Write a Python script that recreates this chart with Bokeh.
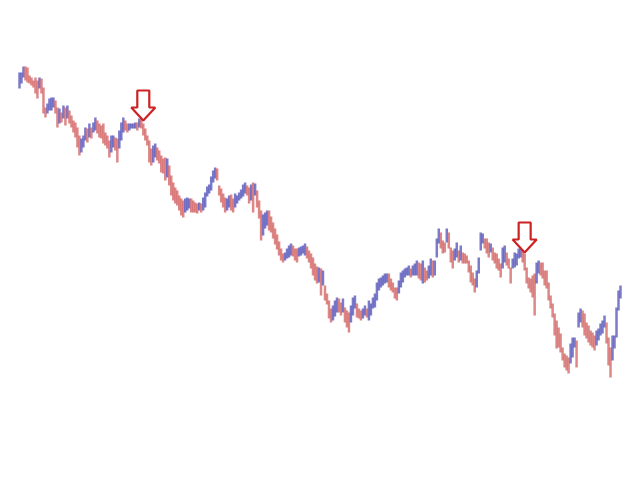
from bokeh.plotting import figure
from bokeh.models import Range1d, ColumnDataSource
from bokeh.embed import file_html
from bokeh.resources import INLINE

# Bar highs and lows (price units)
high = [
    408, 408, 414, 414, 413, 405, 403, 400, 403, 400, 403, 402, 393, 373, 377, 382, 383, 383, 380, 373,
    372, 368, 375, 373, 375, 370, 365, 360, 358, 353, 345, 342, 345, 353, 352, 357, 353, 358, 363, 360,
    357, 355, 357, 348, 345, 340, 345, 345, 343, 342, 350, 358, 363, 360, 357, 357, 357, 357, 358, 358,
    362, 362, 357, 352, 345, 340, 332, 335, 337, 333, 330, 325, 322,
    323, 322, 315, 305, 298, 293, 290, 285, 282, 280, 282, 283, 282, 282, 280, 278, 277, 278, 277, 283,
    288, 294, 296, 304, 310, 313, 312, 295, 292, 287, 283, 282, 285, 286, 282, 287, 285, 288, 291, 296,
    298, 295, 293, 296, 298, 297, 290, 280, 270, 266, 268, 270, 270, 264, 258, 252, 246, 239, 232, 227,
    228, 232, 235, 237, 235, 232, 232, 233, 234, 235, 237, 234, 230, 227, 223, 217,
    214, 213, 212, 210, 195, 187, 180, 172, 175, 180,
    183, 182, 178, 182, 173, 170, 168, 175, 183, 185, 177, 172, 170, 172, 175, 172, 180, 177, 183, 187,
    198, 202, 203, 205, 207, 207, 207, 202, 198, 193, 193, 200, 208, 210, 212, 213, 215, 212, 215,
    217, 220, 218, 217, 220, 213, 210, 215, 222, 220, 220, 242, 252, 248, 240, 238, 252, 248, 233, 230,
    232, 238, 230, 235, 228, 227, 225, 220, 215, 208, 202, 210, 223, 248, 247, 242, 242, 238, 237, 233,
    228,
    227, 222, 217, 233, 235, 228, 222, 213, 222, 228, 227, 232, 235, 230, 227, 213, 203, 202, 205, 207,
    218, 220, 218, 218, 210, 210, 198, 185, 177, 167, 160, 153, 147, 133, 127, 125, 123, 137, 143,
    143, 140, 168, 172, 170, 167, 158, 155, 150, 148, 145, 150, 152, 157, 160, 165, 158, 143, 133, 145,
    145, 173, 190, 195,
]
low = [
    392, 397, 403, 400, 398, 397, 395, 393, 387, 382, 392, 387, 367, 363, 367, 370, 370, 373, 367, 353,
    357, 358, 362, 355, 362, 357, 353, 348, 343, 333, 325, 328, 333, 340, 338, 343, 342, 348, 350, 347,
    343, 342, 337, 335, 332, 323, 328, 333, 330, 318, 332, 340, 348, 350, 348, 350, 352, 352, 352, 350,
    353, 352, 345, 340, 335, 318, 315, 318, 323, 320, 317, 308, 307,
    300, 303, 295, 285, 280, 277, 275, 270, 265, 263, 268, 270, 272, 268, 268, 268, 267, 270, 268, 270,
    273, 284, 287, 290, 298, 302, 300, 285, 278, 273, 268, 270, 273, 270, 268, 273, 277, 280, 282, 284,
    287, 285, 277, 280, 268, 285, 273, 262, 240, 245, 252, 255, 250, 248, 242, 236, 231, 225, 220, 218,
    220, 222, 223, 225, 224, 220, 218, 224, 225, 227, 225, 222, 218, 212, 205, 200,
    197, 198, 185, 195, 180, 176, 162, 158, 160, 164,
    168, 168, 165, 168, 158, 153, 148, 158, 165, 172, 163, 162, 160, 162, 165, 163, 160, 165, 172, 173,
    180, 190, 193, 195, 197, 198, 193, 190, 188, 182, 180, 187, 193, 198, 203, 205, 205, 203, 205,
    205, 205, 202, 200, 197, 198, 200, 202, 205, 203, 205, 223, 237, 232, 227, 228, 238, 232, 218, 212,
    220, 223, 218, 220, 217, 217, 217, 208, 198, 195, 188, 193, 207, 230, 237, 232, 227, 223, 228, 220,
    217,
    212, 210, 203, 212, 218, 215, 212, 197, 212, 213, 215, 222, 223, 218, 210, 197, 192, 188, 183, 165,
    197, 207, 205, 202, 195, 192, 180, 172, 163, 145, 132, 133, 128, 120, 113, 110, 107, 117, 123,
    133, 113, 153, 158, 153, 145, 142, 138, 135, 133, 130, 135, 140, 145, 147, 153, 137, 115, 103, 120,
    132, 143, 170, 182,
]

# Signal arrows: bar index and price of the arrow tip
signal_bar = [62, 253]
signal_price = [360, 228]

BLUE = "#4f4fb8"
RED = "#d25f5f"

n = min(len(high), len(low))
high = high[:n]
low = low[:n]
xs = list(range(n))
mid = [(h + l) / 2 for h, l in zip(high, low)]
colors = []
for i in range(n):
    prev = mid[i - 1] if i > 0 else mid[i]
    colors.append(BLUE if mid[i] >= prev else RED)

W, H = 624, 464
ppb = 601.0 / (n - 1)          # pixels per bar
x_start = -19.0 / ppb
x_end = x_start + W / ppb

p = figure(width=W, height=H, output_backend="svg", toolbar_location=None,
           x_range=Range1d(x_start, x_end), y_range=Range1d(16, 480),
           min_border=0, min_border_left=0, min_border_right=0,
           min_border_top=0, min_border_bottom=0)
p.axis.visible = False
p.grid.visible = False
p.outline_line_color = None
p.background_fill_color = "white"
p.border_fill_color = "white"

src = ColumnDataSource(dict(x=xs, high=high, low=low, color=colors))
p.vbar(x="x", top="high", bottom="low", width=1.25, fill_color="color",
       line_color=None, fill_alpha=0.75, source=src)

# block arrows (size in pixels converted to data units)
hw, sw, hh, tot = 12.0, 6.0, 13.0, 30.0
axs, ays = [], []
for b, tp in zip(signal_bar, signal_price):
    dx = 1.0 / ppb
    axs.append([b - hw * dx, b - sw * dx, b - sw * dx, b + sw * dx, b + sw * dx, b + hw * dx, b])
    ays.append([tp + hh, tp + hh, tp + tot, tp + tot, tp + hh, tp + hh, tp])
p.patches(axs, ays, fill_color="white", line_color="#cc2222", line_width=2.2)

open("out.html", "w").write(file_html(p, INLINE))
